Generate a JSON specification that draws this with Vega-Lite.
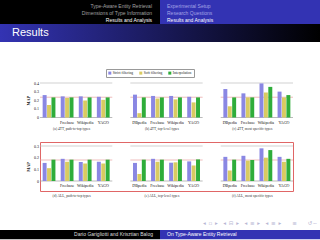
{
  "$schema": "https://vega.github.io/schema/vega-lite/v6.json",
  "padding": 0,
  "background": "white",
  "spacing": 0,
  "config": {
    "view": {"stroke": null},
    "font": "Liberation Serif",
    "concat": {"spacing": 0},
    "axis": {"labelOverlap": false, "labelBound": false, "labelFlush": false},
    "title": {"fontWeight": "normal", "font": "Liberation Sans", "subtitleFont": "Liberation Sans"}
  },
  "resolve": {"scale": {"color": "independent"}, "legend": {"color": "independent"}},
  "datasets": {
    "topBars": [
      {"slot": "a|DBpedia", "method": "Strict filtering", "map": 0.26},
      {"slot": "a|DBpedia", "method": "Soft filtering", "map": 0.145},
      {"slot": "a|DBpedia", "method": "Interpolation", "map": 0.233},
      {"slot": "a|Freebase", "method": "Strict filtering", "map": 0.245},
      {"slot": "a|Freebase", "method": "Soft filtering", "map": 0.225},
      {"slot": "a|Freebase", "method": "Interpolation", "map": 0.233},
      {"slot": "a|Wikipedia", "method": "Strict filtering", "map": 0.245},
      {"slot": "a|Wikipedia", "method": "Soft filtering", "map": 0.197},
      {"slot": "a|Wikipedia", "method": "Interpolation", "map": 0.233},
      {"slot": "a|YAGO", "method": "Strict filtering", "map": 0.24},
      {"slot": "a|YAGO", "method": "Soft filtering", "map": 0.205},
      {"slot": "a|YAGO", "method": "Interpolation", "map": 0.233},
      {"slot": "b|DBpedia", "method": "Strict filtering", "map": 0.265},
      {"slot": "b|DBpedia", "method": "Soft filtering", "map": 0.05},
      {"slot": "b|DBpedia", "method": "Interpolation", "map": 0.233},
      {"slot": "b|Freebase", "method": "Strict filtering", "map": 0.25},
      {"slot": "b|Freebase", "method": "Soft filtering", "map": 0.22},
      {"slot": "b|Freebase", "method": "Interpolation", "map": 0.233},
      {"slot": "b|Wikipedia", "method": "Strict filtering", "map": 0.25},
      {"slot": "b|Wikipedia", "method": "Soft filtering", "map": 0.21},
      {"slot": "b|Wikipedia", "method": "Interpolation", "map": 0.233},
      {"slot": "b|YAGO", "method": "Strict filtering", "map": 0.24},
      {"slot": "b|YAGO", "method": "Soft filtering", "map": 0.175},
      {"slot": "b|YAGO", "method": "Interpolation", "map": 0.233},
      {"slot": "c|DBpedia", "method": "Strict filtering", "map": 0.33},
      {"slot": "c|DBpedia", "method": "Soft filtering", "map": 0.13},
      {"slot": "c|DBpedia", "method": "Interpolation", "map": 0.233},
      {"slot": "c|Freebase", "method": "Strict filtering", "map": 0.28},
      {"slot": "c|Freebase", "method": "Soft filtering", "map": 0.233},
      {"slot": "c|Freebase", "method": "Interpolation", "map": 0.233},
      {"slot": "c|Wikipedia", "method": "Strict filtering", "map": 0.395},
      {"slot": "c|Wikipedia", "method": "Soft filtering", "map": 0.29},
      {"slot": "c|Wikipedia", "method": "Interpolation", "map": 0.355},
      {"slot": "c|YAGO", "method": "Strict filtering", "map": 0.3},
      {"slot": "c|YAGO", "method": "Soft filtering", "map": 0.233},
      {"slot": "c|YAGO", "method": "Interpolation", "map": 0.26}
    ],
    "bottomBars": [
      {"slot": "d|DBpedia", "method": "Strict filtering", "map": 0.155},
      {"slot": "d|DBpedia", "method": "Soft filtering", "map": 0.11},
      {"slot": "d|DBpedia", "method": "Interpolation", "map": 0.183},
      {"slot": "d|Freebase", "method": "Strict filtering", "map": 0.19},
      {"slot": "d|Freebase", "method": "Soft filtering", "map": 0.165},
      {"slot": "d|Freebase", "method": "Interpolation", "map": 0.183},
      {"slot": "d|Wikipedia", "method": "Strict filtering", "map": 0.163},
      {"slot": "d|Wikipedia", "method": "Soft filtering", "map": 0.15},
      {"slot": "d|Wikipedia", "method": "Interpolation", "map": 0.183},
      {"slot": "d|YAGO", "method": "Strict filtering", "map": 0.165},
      {"slot": "d|YAGO", "method": "Soft filtering", "map": 0.15},
      {"slot": "d|YAGO", "method": "Interpolation", "map": 0.183},
      {"slot": "e|DBpedia", "method": "Strict filtering", "map": 0.155},
      {"slot": "e|DBpedia", "method": "Soft filtering", "map": 0.06},
      {"slot": "e|DBpedia", "method": "Interpolation", "map": 0.183},
      {"slot": "e|Freebase", "method": "Strict filtering", "map": 0.19},
      {"slot": "e|Freebase", "method": "Soft filtering", "map": 0.165},
      {"slot": "e|Freebase", "method": "Interpolation", "map": 0.183},
      {"slot": "e|Wikipedia", "method": "Strict filtering", "map": 0.157},
      {"slot": "e|Wikipedia", "method": "Soft filtering", "map": 0.16},
      {"slot": "e|Wikipedia", "method": "Interpolation", "map": 0.185},
      {"slot": "e|YAGO", "method": "Strict filtering", "map": 0.168},
      {"slot": "e|YAGO", "method": "Soft filtering", "map": 0.133},
      {"slot": "e|YAGO", "method": "Interpolation", "map": 0.185},
      {"slot": "f|DBpedia", "method": "Strict filtering", "map": 0.207},
      {"slot": "f|DBpedia", "method": "Soft filtering", "map": 0.09},
      {"slot": "f|DBpedia", "method": "Interpolation", "map": 0.183},
      {"slot": "f|Freebase", "method": "Strict filtering", "map": 0.216},
      {"slot": "f|Freebase", "method": "Soft filtering", "map": 0.175},
      {"slot": "f|Freebase", "method": "Interpolation", "map": 0.18},
      {"slot": "f|Wikipedia", "method": "Strict filtering", "map": 0.28},
      {"slot": "f|Wikipedia", "method": "Soft filtering", "map": 0.2},
      {"slot": "f|Wikipedia", "method": "Interpolation", "map": 0.265},
      {"slot": "f|YAGO", "method": "Strict filtering", "map": 0.207},
      {"slot": "f|YAGO", "method": "Soft filtering", "map": 0.165},
      {"slot": "f|YAGO", "method": "Interpolation", "map": 0.19}
    ],
    "topPanels": [
      {"panel": "a", "first": "a|DBpedia", "last": "a|YAGO", "anchor": "a|Freebase", "caption": "(a) 4TT, path-to-top types", "base": 0.235},
      {"panel": "b", "first": "b|DBpedia", "last": "b|YAGO", "anchor": "b|Freebase", "caption": "(b) 4TT, top-level types", "base": 0.235},
      {"panel": "c", "first": "c|DBpedia", "last": "c|YAGO", "anchor": "c|Freebase", "caption": "(c) 4TT, most specific types", "base": 0.235}
    ],
    "bottomPanels": [
      {"panel": "d", "first": "d|DBpedia", "last": "d|YAGO", "anchor": "d|Freebase", "caption": "(d) ALL, path-to-top types", "base": 0.18},
      {"panel": "e", "first": "e|DBpedia", "last": "e|YAGO", "anchor": "e|Freebase", "caption": "(e) ALL, top-level types", "base": 0.18},
      {"panel": "f", "first": "f|DBpedia", "last": "f|YAGO", "anchor": "f|Freebase", "caption": "(f) ALL, most specific types", "base": 0.18}
    ]
  },
  "vconcat": [
    {
      "hconcat": [
        {
          "width": 160, "height": 24,
          "data": {"values": []}, "mark": "rect",
          "view": {"fill": "#000000"},
          "title": {"text": ["Type-Aware Entity Retrieval", "Dimensions of Type Information"], "subtitle": "Results and Analysis", "anchor": "end", "frame": "group", "offset": -22.5, "dx": -8, "fontSize": 5, "lineHeight": 6.8, "color": "#a0a0a0", "subtitleFontSize": 5, "subtitleColor": "#ffffff", "subtitlePadding": 1.8}
        },
        {
          "width": 160, "height": 24,
          "data": {"values": []}, "mark": "rect",
          "view": {"fill": "#3333b3"},
          "title": {"text": ["Experimental Setup", "Research Questions"], "subtitle": "Results and Analysis", "anchor": "start", "frame": "group", "offset": -22.5, "dx": 7, "fontSize": 5, "lineHeight": 6.8, "color": "#a3a3e6", "subtitleFontSize": 5, "subtitleColor": "#ffffff", "subtitlePadding": 1.8}
        }
      ],
      "spacing": 0
    },
    {
      "width": 320, "height": 18,
      "data": {"values": [{}]},
      "mark": {"type": "rect", "color": {"gradient": "linear", "x1": 0, "y1": 0, "x2": 1, "y2": 0, "stops": [{"offset": 0, "color": "#3333b3"}, {"offset": 1, "color": "#000000"}]}},
      "title": {"text": "Results", "anchor": "start", "frame": "group", "offset": -14, "dx": 12, "fontSize": 11, "color": "#ffffff"}
    },
    {"width": 320, "height": 26, "data": {"values": []}, "mark": "point"},
    {
      "hconcat": [
        {"width": 26, "height": 1, "data": {"values": []}, "mark": "point"},
        {
          "width": 253, "height": 34.5,
          "layer": [
            {
              "data": {"name": "topPanels"},
              "mark": {"type": "rule", "color": "#bdbdbd", "strokeWidth": 0.7},
              "encoding": {
                "x": {"field": "first", "type": "nominal", "bandPosition": 0, "scale": {"type": "band", "domain": ["a|DBpedia","a|Freebase","a|Wikipedia","a|YAGO","a|gap","b|DBpedia","b|Freebase","b|Wikipedia","b|YAGO","b|gap","c|DBpedia","c|Freebase","c|Wikipedia","c|YAGO"], "paddingInner": 0, "paddingOuter": 0},
                  "axis": {"values": ["a|DBpedia","a|Freebase","a|Wikipedia","a|YAGO","b|DBpedia","b|Freebase","b|Wikipedia","b|YAGO","c|DBpedia","c|Freebase","c|Wikipedia","c|YAGO"], "labelExpr": "slice(datum.value, 2)", "labelAlign": "center", "labelBaseline": "top", "labelOverlap": false, "labelBound": false, "labelFlush": false, "zindex": 2, "domain": false, "ticks": false, "grid": false, "labelPadding": 2.5, "labelFontSize": 4, "labelColor": "#111111", "labelAngle": 0, "title": null}},
                "x2": {"field": "last", "bandPosition": 1},
                "y": {"datum": 0.4, "type": "quantitative", "scale": {"domain": [0, 0.4], "nice": false},
                  "axis": {"values": [0, 0.1, 0.2, 0.3, 0.4], "format": ".1~f", "labelOverlap": false, "domain": false, "ticks": false, "grid": false, "labelPadding": 1.5, "labelFontSize": 4, "labelColor": "#111111", "title": "MAP", "titleFontSize": 4.2, "titleFontWeight": "bold", "titleColor": "#111111", "titlePadding": 3}}
              }
            },
            {
              "data": {"name": "topPanels"},
              "mark": {"type": "rule", "color": "#9e9e9e", "strokeWidth": 0.7},
              "encoding": {
                "x": {"field": "first", "type": "nominal", "bandPosition": 0, "scale": {"type": "band", "domain": ["a|DBpedia","a|Freebase","a|Wikipedia","a|YAGO","a|gap","b|DBpedia","b|Freebase","b|Wikipedia","b|YAGO","b|gap","c|DBpedia","c|Freebase","c|Wikipedia","c|YAGO"], "paddingInner": 0, "paddingOuter": 0},
                  "axis": {"values": ["a|DBpedia","a|Freebase","a|Wikipedia","a|YAGO","b|DBpedia","b|Freebase","b|Wikipedia","b|YAGO","c|DBpedia","c|Freebase","c|Wikipedia","c|YAGO"], "labelExpr": "slice(datum.value, 2)", "labelAlign": "center", "labelBaseline": "top", "labelOverlap": false, "labelBound": false, "labelFlush": false, "zindex": 2, "domain": false, "ticks": false, "grid": false, "labelPadding": 2.5, "labelFontSize": 4, "labelColor": "#111111", "labelAngle": 0, "title": null}},
                "x2": {"field": "last", "bandPosition": 1},
                "y": {"datum": 0, "type": "quantitative", "scale": {"domain": [0, 0.4], "nice": false},
                  "axis": {"values": [0, 0.1, 0.2, 0.3, 0.4], "format": ".1~f", "labelOverlap": false, "domain": false, "ticks": false, "grid": false, "labelPadding": 1.5, "labelFontSize": 4, "labelColor": "#111111", "title": "MAP", "titleFontSize": 4.2, "titleFontWeight": "bold", "titleColor": "#111111", "titlePadding": 3}}
              }
            },
            {
              "data": {"name": "topPanels"},
              "mark": {"type": "rule", "color": "#e8a0a0", "strokeWidth": 0.7},
              "encoding": {
                "x": {"field": "first", "type": "nominal", "bandPosition": 0, "scale": {"type": "band", "domain": ["a|DBpedia","a|Freebase","a|Wikipedia","a|YAGO","a|gap","b|DBpedia","b|Freebase","b|Wikipedia","b|YAGO","b|gap","c|DBpedia","c|Freebase","c|Wikipedia","c|YAGO"], "paddingInner": 0, "paddingOuter": 0},
                  "axis": {"values": ["a|DBpedia","a|Freebase","a|Wikipedia","a|YAGO","b|DBpedia","b|Freebase","b|Wikipedia","b|YAGO","c|DBpedia","c|Freebase","c|Wikipedia","c|YAGO"], "labelExpr": "slice(datum.value, 2)", "labelAlign": "center", "labelBaseline": "top", "labelOverlap": false, "labelBound": false, "labelFlush": false, "zindex": 2, "domain": false, "ticks": false, "grid": false, "labelPadding": 2.5, "labelFontSize": 4, "labelColor": "#111111", "labelAngle": 0, "title": null}},
                "x2": {"field": "last", "bandPosition": 1},
                "y": {"field": "base", "type": "quantitative", "scale": {"domain": [0, 0.4], "nice": false},
                  "axis": {"values": [0, 0.1, 0.2, 0.3, 0.4], "format": ".1~f", "labelOverlap": false, "domain": false, "ticks": false, "grid": false, "labelPadding": 1.5, "labelFontSize": 4, "labelColor": "#111111", "title": "MAP", "titleFontSize": 4.2, "titleFontWeight": "bold", "titleColor": "#111111", "titlePadding": 3}}
              }
            },
            {
              "data": {"name": "topBars"},
              "mark": {"type": "bar"},
              "encoding": {
                "x": {"field": "slot", "type": "nominal", "scale": {"type": "band", "domain": ["a|DBpedia","a|Freebase","a|Wikipedia","a|YAGO","a|gap","b|DBpedia","b|Freebase","b|Wikipedia","b|YAGO","b|gap","c|DBpedia","c|Freebase","c|Wikipedia","c|YAGO"], "paddingInner": 0, "paddingOuter": 0},
                  "axis": {"values": ["a|DBpedia","a|Freebase","a|Wikipedia","a|YAGO","b|DBpedia","b|Freebase","b|Wikipedia","b|YAGO","c|DBpedia","c|Freebase","c|Wikipedia","c|YAGO"], "labelExpr": "slice(datum.value, 2)", "labelAlign": "center", "labelBaseline": "top", "labelOverlap": false, "labelBound": false, "labelFlush": false, "zindex": 2, "domain": false, "ticks": false, "grid": false, "labelPadding": 2.5, "labelFontSize": 4, "labelColor": "#111111", "labelAngle": 0, "title": null}},
                "xOffset": {"field": "method", "type": "nominal", "scale": {"domain": ["Strict filtering", "Soft filtering", "Interpolation"], "paddingInner": 0.1, "paddingOuter": 0.6}},
                "y": {"field": "map", "type": "quantitative", "scale": {"domain": [0, 0.4], "nice": false},
                  "axis": {"values": [0, 0.1, 0.2, 0.3, 0.4], "format": ".1~f", "labelOverlap": false, "domain": false, "ticks": false, "grid": false, "labelPadding": 1.5, "labelFontSize": 4, "labelColor": "#111111", "title": "MAP", "titleFontSize": 4.2, "titleFontWeight": "bold", "titleColor": "#111111", "titlePadding": 3}},
                "color": {"field": "method", "type": "nominal", "scale": {"domain": ["Strict filtering", "Soft filtering", "Interpolation"], "range": ["#8a87e3", "#d9cb62", "#2fad3a"]},
                  "legend": {"orient": "none", "legendX": 66, "legendY": -14, "direction": "horizontal", "title": null, "strokeColor": "#999999", "fillColor": "#ffffff", "padding": 2, "symbolType": "square", "symbolSize": 9, "symbolStrokeWidth": 0, "labelFontSize": 3.6, "labelColor": "#222222", "labelOffset": 1.2, "columnPadding": 5, "labelLimit": 0}}
              }
            },
            {
              "data": {"name": "topPanels"},
              "mark": {"type": "text", "fontSize": 3.6, "color": "#333333", "baseline": "middle"},
              "encoding": {
                "x": {"field": "anchor", "type": "nominal", "bandPosition": 0.75, "scale": {"type": "band", "domain": ["a|DBpedia","a|Freebase","a|Wikipedia","a|YAGO","a|gap","b|DBpedia","b|Freebase","b|Wikipedia","b|YAGO","b|gap","c|DBpedia","c|Freebase","c|Wikipedia","c|YAGO"], "paddingInner": 0, "paddingOuter": 0},
                  "axis": {"values": ["a|DBpedia","a|Freebase","a|Wikipedia","a|YAGO","b|DBpedia","b|Freebase","b|Wikipedia","b|YAGO","c|DBpedia","c|Freebase","c|Wikipedia","c|YAGO"], "labelExpr": "slice(datum.value, 2)", "labelAlign": "center", "labelBaseline": "top", "labelOverlap": false, "labelBound": false, "labelFlush": false, "zindex": 2, "domain": false, "ticks": false, "grid": false, "labelPadding": 2.5, "labelFontSize": 4, "labelColor": "#111111", "labelAngle": 0, "title": null}},
                "y": {"datum": -0.13, "type": "quantitative", "scale": {"domain": [0, 0.4], "nice": false},
                  "axis": {"values": [0, 0.1, 0.2, 0.3, 0.4], "format": ".1~f", "labelOverlap": false, "domain": false, "ticks": false, "grid": false, "labelPadding": 1.5, "labelFontSize": 4, "labelColor": "#111111", "title": "MAP", "titleFontSize": 4.2, "titleFontWeight": "bold", "titleColor": "#111111", "titlePadding": 3}},
                "text": {"field": "caption"}
              }
            }
          ]
        }
      ],
      "spacing": 0,
      "resolve": {"scale": {"color": "independent"}, "legend": {"color": "independent"}}
    },
    {"width": 320, "height": 9.3, "data": {"values": []}, "mark": "point"},
    {
      "hconcat": [
        {"width": 26, "height": 1, "data": {"values": []}, "mark": "point"},
        {
          "width": 253, "height": 49,
          "view": {"stroke": "#e06666", "strokeWidth": 1},
          "layer": [
            {
              "data": {"name": "bottomPanels"},
              "mark": {"type": "rule", "color": "#bdbdbd", "strokeWidth": 0.7},
              "encoding": {
                "x": {"field": "first", "type": "nominal", "bandPosition": 0, "scale": {"type": "band", "domain": ["d|DBpedia","d|Freebase","d|Wikipedia","d|YAGO","d|gap","e|DBpedia","e|Freebase","e|Wikipedia","e|YAGO","e|gap","f|DBpedia","f|Freebase","f|Wikipedia","f|YAGO"], "paddingInner": 0, "paddingOuter": 0},
                  "axis": {"values": ["d|DBpedia","d|Freebase","d|Wikipedia","d|YAGO","e|DBpedia","e|Freebase","e|Wikipedia","e|YAGO","f|DBpedia","f|Freebase","f|Wikipedia","f|YAGO"], "labelExpr": "slice(datum.value, 2)", "labelAlign": "center", "labelBaseline": "top", "labelOverlap": false, "labelBound": false, "labelFlush": false, "zindex": 2, "domain": false, "ticks": false, "grid": false, "offset": -10, "labelPadding": 2.5, "labelFontSize": 4, "labelColor": "#111111", "labelAngle": 0, "title": null}},
                "x2": {"field": "last", "bandPosition": 1},
                "y": {"datum": 0.3, "type": "quantitative", "scale": {"domain": [-0.0857, 0.3343], "nice": false},
                  "axis": {"values": [0, 0.1, 0.2, 0.3], "format": ".1~f", "labelOverlap": false, "domain": false, "ticks": false, "grid": false, "labelPadding": 1.5, "labelFontSize": 4, "labelColor": "#111111", "title": "MAP", "titleFontSize": 4.2, "titleFontWeight": "bold", "titleColor": "#111111", "titlePadding": 3}}
              }
            },
            {
              "data": {"name": "bottomPanels"},
              "mark": {"type": "rule", "color": "#9e9e9e", "strokeWidth": 0.7},
              "encoding": {
                "x": {"field": "first", "type": "nominal", "bandPosition": 0, "scale": {"type": "band", "domain": ["d|DBpedia","d|Freebase","d|Wikipedia","d|YAGO","d|gap","e|DBpedia","e|Freebase","e|Wikipedia","e|YAGO","e|gap","f|DBpedia","f|Freebase","f|Wikipedia","f|YAGO"], "paddingInner": 0, "paddingOuter": 0},
                  "axis": {"values": ["d|DBpedia","d|Freebase","d|Wikipedia","d|YAGO","e|DBpedia","e|Freebase","e|Wikipedia","e|YAGO","f|DBpedia","f|Freebase","f|Wikipedia","f|YAGO"], "labelExpr": "slice(datum.value, 2)", "labelAlign": "center", "labelBaseline": "top", "labelOverlap": false, "labelBound": false, "labelFlush": false, "zindex": 2, "domain": false, "ticks": false, "grid": false, "offset": -10, "labelPadding": 2.5, "labelFontSize": 4, "labelColor": "#111111", "labelAngle": 0, "title": null}},
                "x2": {"field": "last", "bandPosition": 1},
                "y": {"datum": 0, "type": "quantitative", "scale": {"domain": [-0.0857, 0.3343], "nice": false},
                  "axis": {"values": [0, 0.1, 0.2, 0.3], "format": ".1~f", "labelOverlap": false, "domain": false, "ticks": false, "grid": false, "labelPadding": 1.5, "labelFontSize": 4, "labelColor": "#111111", "title": "MAP", "titleFontSize": 4.2, "titleFontWeight": "bold", "titleColor": "#111111", "titlePadding": 3}}
              }
            },
            {
              "data": {"name": "bottomPanels"},
              "mark": {"type": "rule", "color": "#e8a0a0", "strokeWidth": 0.7},
              "encoding": {
                "x": {"field": "first", "type": "nominal", "bandPosition": 0, "scale": {"type": "band", "domain": ["d|DBpedia","d|Freebase","d|Wikipedia","d|YAGO","d|gap","e|DBpedia","e|Freebase","e|Wikipedia","e|YAGO","e|gap","f|DBpedia","f|Freebase","f|Wikipedia","f|YAGO"], "paddingInner": 0, "paddingOuter": 0},
                  "axis": {"values": ["d|DBpedia","d|Freebase","d|Wikipedia","d|YAGO","e|DBpedia","e|Freebase","e|Wikipedia","e|YAGO","f|DBpedia","f|Freebase","f|Wikipedia","f|YAGO"], "labelExpr": "slice(datum.value, 2)", "labelAlign": "center", "labelBaseline": "top", "labelOverlap": false, "labelBound": false, "labelFlush": false, "zindex": 2, "domain": false, "ticks": false, "grid": false, "offset": -10, "labelPadding": 2.5, "labelFontSize": 4, "labelColor": "#111111", "labelAngle": 0, "title": null}},
                "x2": {"field": "last", "bandPosition": 1},
                "y": {"field": "base", "type": "quantitative", "scale": {"domain": [-0.0857, 0.3343], "nice": false},
                  "axis": {"values": [0, 0.1, 0.2, 0.3], "format": ".1~f", "labelOverlap": false, "domain": false, "ticks": false, "grid": false, "labelPadding": 1.5, "labelFontSize": 4, "labelColor": "#111111", "title": "MAP", "titleFontSize": 4.2, "titleFontWeight": "bold", "titleColor": "#111111", "titlePadding": 3}}
              }
            },
            {
              "data": {"name": "bottomBars"},
              "mark": {"type": "bar"},
              "encoding": {
                "x": {"field": "slot", "type": "nominal", "scale": {"type": "band", "domain": ["d|DBpedia","d|Freebase","d|Wikipedia","d|YAGO","d|gap","e|DBpedia","e|Freebase","e|Wikipedia","e|YAGO","e|gap","f|DBpedia","f|Freebase","f|Wikipedia","f|YAGO"], "paddingInner": 0, "paddingOuter": 0},
                  "axis": {"values": ["d|DBpedia","d|Freebase","d|Wikipedia","d|YAGO","e|DBpedia","e|Freebase","e|Wikipedia","e|YAGO","f|DBpedia","f|Freebase","f|Wikipedia","f|YAGO"], "labelExpr": "slice(datum.value, 2)", "labelAlign": "center", "labelBaseline": "top", "labelOverlap": false, "labelBound": false, "labelFlush": false, "zindex": 2, "domain": false, "ticks": false, "grid": false, "offset": -10, "labelPadding": 2.5, "labelFontSize": 4, "labelColor": "#111111", "labelAngle": 0, "title": null}},
                "xOffset": {"field": "method", "type": "nominal", "scale": {"domain": ["Strict filtering", "Soft filtering", "Interpolation"], "paddingInner": 0.1, "paddingOuter": 0.6}},
                "y": {"field": "map", "type": "quantitative", "scale": {"domain": [-0.0857, 0.3343], "nice": false},
                  "axis": {"values": [0, 0.1, 0.2, 0.3], "format": ".1~f", "labelOverlap": false, "domain": false, "ticks": false, "grid": false, "labelPadding": 1.5, "labelFontSize": 4, "labelColor": "#111111", "title": "MAP", "titleFontSize": 4.2, "titleFontWeight": "bold", "titleColor": "#111111", "titlePadding": 3}},
                "color": {"field": "method", "type": "nominal", "scale": {"domain": ["Strict filtering", "Soft filtering", "Interpolation"], "range": ["#8a87e3", "#d9cb62", "#2fad3a"]}, "legend": null}
              }
            },
            {
              "data": {"name": "bottomPanels"},
              "mark": {"type": "text", "fontSize": 3.6, "color": "#333333", "baseline": "middle"},
              "encoding": {
                "x": {"field": "anchor", "type": "nominal", "bandPosition": 0.75, "scale": {"type": "band", "domain": ["d|DBpedia","d|Freebase","d|Wikipedia","d|YAGO","d|gap","e|DBpedia","e|Freebase","e|Wikipedia","e|YAGO","e|gap","f|DBpedia","f|Freebase","f|Wikipedia","f|YAGO"], "paddingInner": 0, "paddingOuter": 0},
                  "axis": {"values": ["d|DBpedia","d|Freebase","d|Wikipedia","d|YAGO","e|DBpedia","e|Freebase","e|Wikipedia","e|YAGO","f|DBpedia","f|Freebase","f|Wikipedia","f|YAGO"], "labelExpr": "slice(datum.value, 2)", "labelAlign": "center", "labelBaseline": "top", "labelOverlap": false, "labelBound": false, "labelFlush": false, "zindex": 2, "domain": false, "ticks": false, "grid": false, "offset": -10, "labelPadding": 2.5, "labelFontSize": 4, "labelColor": "#111111", "labelAngle": 0, "title": null}},
                "y": {"datum": -0.126, "type": "quantitative", "scale": {"domain": [-0.0857, 0.3343], "nice": false},
                  "axis": {"values": [0, 0.1, 0.2, 0.3], "format": ".1~f", "labelOverlap": false, "domain": false, "ticks": false, "grid": false, "labelPadding": 1.5, "labelFontSize": 4, "labelColor": "#111111", "title": "MAP", "titleFontSize": 4.2, "titleFontWeight": "bold", "titleColor": "#111111", "titlePadding": 3}},
                "text": {"field": "caption"}
              }
            }
          ]
        }
      ],
      "spacing": 0,
      "resolve": {"scale": {"color": "independent"}, "legend": {"color": "independent"}}
    },
    {"width": 320, "height": 19.3, "data": {"values": []}, "mark": "point"},
    {
      "width": 320, "height": 11.7,
      "data": {"values": []}, "mark": "rect",
      "title": {"text": "◂\u2002▫\u2002▸\u2003◂\u2002⊟\u2002▸\u2003◂\u2002≡\u2002▸\u2003◂\u2002≡\u2002▸\u2003\u2003≡\u2003\u2003↺∽", "anchor": "end", "frame": "group", "offset": -8.5, "dx": -3, "fontSize": 5.5, "font": "DejaVu Sans", "color": "#b8b8d4"}
    },
    {
      "hconcat": [
        {
          "width": 160, "height": 9.3,
          "data": {"values": []}, "mark": "rect",
          "view": {"fill": "#000000"},
          "title": {"text": "Dario Garigliotti and Krisztian Balog", "anchor": "end", "frame": "group", "offset": -7, "dx": -7, "fontSize": 5, "color": "#dddddd"}
        },
        {
          "width": 160, "height": 9.3,
          "data": {"values": []}, "mark": "rect",
          "view": {"fill": "#3333b3"},
          "title": {"text": "On Type-Aware Entity Retrieval", "anchor": "start", "frame": "group", "offset": -7, "dx": 7, "fontSize": 5, "color": "#ffffff"}
        }
      ],
      "spacing": 0
    }
  ]
}
